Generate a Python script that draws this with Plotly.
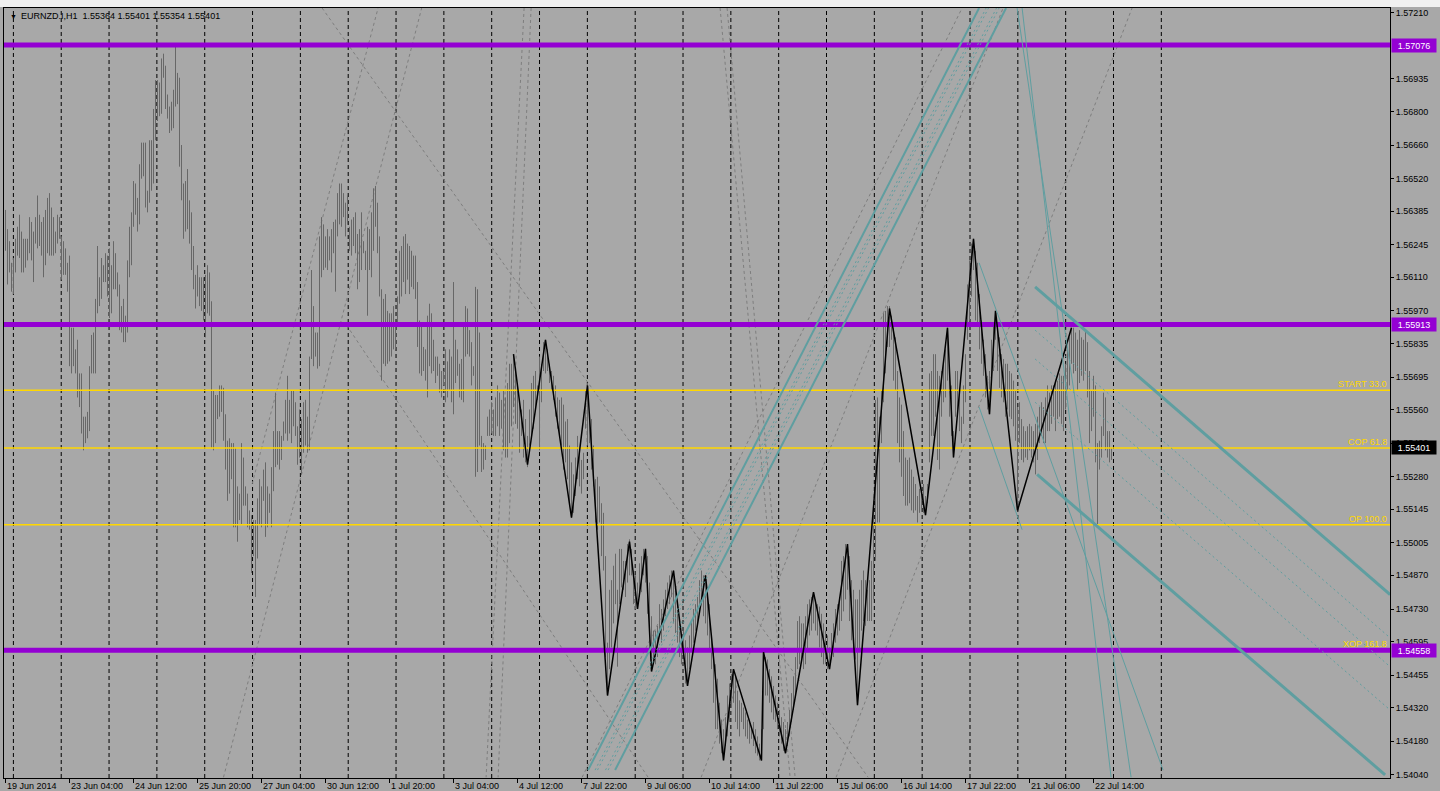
import plotly.graph_objects as go

# ---------------- data ----------------
time_labels = ["19 Jun 2014", "23 Jun 04:00", "24 Jun 12:00", "25 Jun 20:00", "27 Jun 04:00",
               "30 Jun 12:00", "1 Jul 20:00", "3 Jul 04:00", "4 Jul 12:00", "7 Jul 22:00",
               "9 Jul 06:00", "10 Jul 14:00", "11 Jul 22:00", "15 Jul 06:00", "16 Jul 14:00",
               "17 Jul 22:00", "21 Jul 06:00", "22 Jul 14:00"]
label_bars = [0, 32, 64, 96, 128, 160, 192, 224, 256, 288, 320, 352, 384, 416, 448, 480, 512, 544]

price_ticks = [1.57210, 1.56935, 1.56800, 1.56660, 1.56520, 1.56385, 1.56245, 1.56110,
               1.55970, 1.55835, 1.55695, 1.55560, 1.55420, 1.55280, 1.55145, 1.55005,
               1.54870, 1.54730, 1.54595, 1.54455, 1.54320, 1.54180, 1.54040]

high = [
 1.5639, 1.5631, 1.5626, 1.5617, 1.5619, 1.5627, 1.5632, 1.5637, 1.5630, 1.5627,
 1.5627, 1.5627, 1.5636, 1.5634, 1.5630, 1.5636, 1.5645, 1.5637, 1.5634, 1.5636,
 1.5639, 1.5644, 1.5646, 1.5640, 1.5636, 1.5630, 1.5637, 1.5636, 1.5628, 1.5626,
 1.5623, 1.5617, 1.5620, 1.5590, 1.5590, 1.5581, 1.5585, 1.5571, 1.5571, 1.5553,
 1.5553, 1.5555, 1.5574, 1.5587, 1.5588, 1.5602, 1.5624, 1.5611, 1.5619, 1.5616,
 1.5621, 1.5620, 1.5623, 1.5616, 1.5626, 1.5621, 1.5613, 1.5608, 1.5599, 1.5602,
 1.5595, 1.5618, 1.5632, 1.5638, 1.5651, 1.5650, 1.5644, 1.5658, 1.5667, 1.5667,
 1.5667, 1.5647, 1.5668, 1.5668, 1.5681, 1.5693, 1.5693, 1.5692, 1.5702, 1.5704,
 1.5699, 1.5687, 1.5682, 1.5684, 1.5689, 1.5707, 1.5696, 1.5694, 1.5666, 1.5650,
 1.5651, 1.5656, 1.5643, 1.5638, 1.5624, 1.5612, 1.5616, 1.5611, 1.5611, 1.5611,
 1.5612, 1.5616, 1.5613, 1.5601, 1.5564, 1.5562, 1.5562, 1.5566, 1.5566, 1.5565,
 1.5554, 1.5543, 1.5544, 1.5542, 1.5542, 1.5540, 1.5524, 1.5521, 1.5542, 1.5536,
 1.5524, 1.5521, 1.5514, 1.5512, 1.5510, 1.5510, 1.5519, 1.5527, 1.5524, 1.5531,
 1.5534, 1.5524, 1.5521, 1.5532, 1.5547, 1.5563, 1.5547, 1.5547,
 1.5545, 1.5551, 1.5560, 1.5570, 1.5560, 1.5564, 1.5564, 1.5559, 1.5549, 1.5556,
 1.5552, 1.5559, 1.5560, 1.5553, 1.5578, 1.5614, 1.5599, 1.5588, 1.5588, 1.5628,
 1.5636, 1.5633, 1.5628, 1.5631, 1.5628, 1.5631, 1.5634, 1.5635, 1.5646, 1.5650,
 1.5650, 1.5646, 1.5642, 1.5645, 1.5632, 1.5635, 1.5636, 1.5638, 1.5629, 1.5631,
 1.5638, 1.5626, 1.5622, 1.5632, 1.5631, 1.5638, 1.5648, 1.5649, 1.5642, 1.5628,
 1.5606, 1.5602, 1.5604, 1.5597, 1.5596, 1.5596, 1.5599, 1.5592, 1.5603, 1.5622,
 1.5624, 1.5628, 1.5629, 1.5625, 1.5624, 1.5622, 1.5620, 1.5620, 1.5609, 1.5593,
 1.5591, 1.5582, 1.5581, 1.5595, 1.5600, 1.5596, 1.5585, 1.5578, 1.5578, 1.5575,
 1.5572, 1.5572, 1.5581, 1.5576, 1.5581, 1.5578, 1.5609, 1.5585, 1.5581, 1.5575,
 1.5577, 1.5592, 1.5599, 1.5598, 1.5589, 1.5584, 1.5574, 1.5607, 1.5606, 1.5588,
 1.5545, 1.5542, 1.5541, 1.5553, 1.5556, 1.5559, 1.5556, 1.5561, 1.5566, 1.5563,
 1.5560, 1.5564, 1.5561, 1.5567, 1.5575, 1.5575, 1.5579, 1.5572, 1.5567, 1.5559,
 1.5556, 1.5560, 1.5552, 1.5545, 1.5556, 1.5567, 1.5570, 1.5572, 1.5566, 1.5578,
 1.5575, 1.5584, 1.5585, 1.5581, 1.5575, 1.5572, 1.5570, 1.5566, 1.5561, 1.5560,
 1.5561, 1.5558, 1.5551, 1.5552, 1.5541, 1.5534, 1.5529, 1.5536, 1.5545, 1.5538,
 1.5535, 1.5538, 1.5564, 1.5567, 1.5553, 1.5552, 1.5541, 1.5527, 1.5528, 1.5524,
 1.5517, 1.5513, 1.5495, 1.5459, 1.5481, 1.5485, 1.5491, 1.5496, 1.5481, 1.5498,
 1.5498, 1.5493, 1.5493, 1.5500, 1.5502, 1.5498, 1.5489, 1.5487, 1.5484, 1.5492,
 1.5495, 1.5498, 1.5498, 1.5495, 1.5484, 1.5470, 1.5464, 1.5464, 1.5466, 1.5475,
 1.5473, 1.5477, 1.5481, 1.5484, 1.5487, 1.5489, 1.5489, 1.5482, 1.5475, 1.5467,
 1.5462, 1.5464, 1.5460, 1.5457, 1.5462, 1.5468, 1.5473, 1.5475, 1.5478, 1.5485,
 1.5489, 1.5487, 1.5487, 1.5482, 1.5475, 1.5462, 1.5455, 1.5450, 1.5444, 1.5434,
 1.5427, 1.5423, 1.5428, 1.5437, 1.5442, 1.5446, 1.5448, 1.5445, 1.5439, 1.5435,
 1.5434, 1.5432, 1.5430, 1.5427, 1.5426, 1.5423, 1.5426, 1.5423, 1.5420, 1.5417,
 1.5423, 1.5455, 1.5453, 1.5452, 1.5448, 1.5445, 1.5441, 1.5437, 1.5434, 1.5431,
 1.5428, 1.5426, 1.5423, 1.5426, 1.5431, 1.5438, 1.5445, 1.5453, 1.5468, 1.5470,
 1.5467, 1.5467, 1.5470, 1.5475, 1.5477, 1.5478, 1.5480, 1.5477, 1.5475, 1.5474,
 1.5471, 1.5467, 1.5464, 1.5462, 1.5457, 1.5463, 1.5467, 1.5473, 1.5475, 1.5478,
 1.5493, 1.5495, 1.5500, 1.5500, 1.5495, 1.5485, 1.5481, 1.5477, 1.5477, 1.5481,
 1.5485, 1.5489, 1.5485, 1.5481, 1.5485, 1.5493, 1.5518, 1.5560,
 1.5561, 1.5553, 1.5564, 1.5596, 1.5597, 1.5599, 1.5599, 1.5595, 1.5590, 1.5586,
 1.5572, 1.5561, 1.5558, 1.5547, 1.5536, 1.5535, 1.5536, 1.5531, 1.5528, 1.5525,
 1.5520, 1.5523, 1.5521, 1.5525, 1.5520, 1.5525, 1.5571, 1.5572, 1.5579, 1.5579,
 1.5572, 1.5570, 1.5572, 1.5575, 1.5581, 1.5590, 1.5572, 1.5566, 1.5547, 1.5572,
 1.5572, 1.5563, 1.5553, 1.5566, 1.5579, 1.5608, 1.5618, 1.5625, 1.5627, 1.5622,
 1.5617, 1.5604, 1.5593, 1.5585, 1.5579, 1.5570, 1.5572, 1.5585, 1.5592, 1.5597,
 1.5590, 1.5586, 1.5579, 1.5577, 1.5575, 1.5575, 1.5572, 1.5571, 1.5568, 1.5564,
 1.5557, 1.5559, 1.5552, 1.5549, 1.5547, 1.5549, 1.5550, 1.5549, 1.5547, 1.5550,
 1.5553, 1.5557, 1.5559, 1.5557, 1.5561, 1.5566, 1.5563, 1.5566, 1.5566, 1.5568,
 1.5568, 1.5571, 1.5570, 1.5570, 1.5575, 1.5581, 1.5586, 1.5590, 1.5590, 1.5588,
 1.5585, 1.5589, 1.5586, 1.5585, 1.5589, 1.5584, 1.5572, 1.5564, 1.5570, 1.5566,
 1.5542, 1.5543, 1.5549, 1.5563, 1.5561, 1.5547, 1.5547, 1.5540]

low = [
 1.5622, 1.5608, 1.5613, 1.5605, 1.5604, 1.5613, 1.5620, 1.5619, 1.5613, 1.5613,
 1.5615, 1.5618, 1.5621, 1.5618, 1.5609, 1.5625, 1.5623, 1.5624, 1.5620, 1.5611,
 1.5616, 1.5621, 1.5620, 1.5620, 1.5620, 1.5621, 1.5625, 1.5627, 1.5610, 1.5612,
 1.5612, 1.5605, 1.5574, 1.5571, 1.5574, 1.5571, 1.5561, 1.5557, 1.5546, 1.5539,
 1.5542, 1.5544, 1.5547, 1.5571, 1.5571, 1.5571, 1.5596, 1.5599, 1.5602, 1.5609,
 1.5609, 1.5603, 1.5594, 1.5596, 1.5606, 1.5606, 1.5603, 1.5589, 1.5588, 1.5584,
 1.5584, 1.5588, 1.5611, 1.5616, 1.5632, 1.5637, 1.5630, 1.5633, 1.5652, 1.5653,
 1.5640, 1.5638, 1.5642, 1.5647, 1.5650, 1.5668, 1.5676, 1.5678, 1.5679, 1.5694,
 1.5681, 1.5677, 1.5671, 1.5672, 1.5673, 1.5682, 1.5683, 1.5657, 1.5643, 1.5627,
 1.5630, 1.5631, 1.5625, 1.5614, 1.5606, 1.5598, 1.5603, 1.5599, 1.5597, 1.5593,
 1.5586, 1.5596, 1.5595, 1.5540, 1.5539, 1.5542, 1.5552, 1.5553, 1.5555, 1.5543,
 1.5531, 1.5518, 1.5521, 1.5527, 1.5507, 1.5507, 1.5501, 1.5510, 1.5508, 1.5516,
 1.5516, 1.5507, 1.5506, 1.5488, 1.5495, 1.5478, 1.5494, 1.5508, 1.5507, 1.5518,
 1.5503, 1.5507, 1.5513, 1.5507, 1.5522, 1.5532, 1.5533, 1.5531,
 1.5535, 1.5543, 1.5546, 1.5543, 1.5546, 1.5542, 1.5549, 1.5545, 1.5533, 1.5536,
 1.5529, 1.5538, 1.5541, 1.5538, 1.5539, 1.5577, 1.5574, 1.5578, 1.5573, 1.5574,
 1.5611, 1.5614, 1.5615, 1.5614, 1.5618, 1.5613, 1.5621, 1.5605, 1.5628, 1.5633,
 1.5632, 1.5636, 1.5628, 1.5633, 1.5622, 1.5620, 1.5624, 1.5621, 1.5606, 1.5609,
 1.5614, 1.5621, 1.5614, 1.5595, 1.5614, 1.5611, 1.5622, 1.5632, 1.5621, 1.5603,
 1.5568, 1.5575, 1.5574, 1.5575, 1.5576, 1.5578, 1.5581, 1.5581, 1.5592, 1.5600,
 1.5603, 1.5609, 1.5604, 1.5610, 1.5604, 1.5607, 1.5606, 1.5602, 1.5582, 1.5571,
 1.5570, 1.5572, 1.5568, 1.5561, 1.5574, 1.5571, 1.5572, 1.5567, 1.5570, 1.5563,
 1.5561, 1.5566, 1.5559, 1.5561, 1.5564, 1.5559, 1.5554, 1.5567, 1.5570, 1.5561,
 1.5560, 1.5559, 1.5578, 1.5579, 1.5578, 1.5566, 1.5570, 1.5528, 1.5530, 1.5541,
 1.5530, 1.5531, 1.5535, 1.5545, 1.5545, 1.5546, 1.5545, 1.5545, 1.5549, 1.5545,
 1.5548, 1.5539, 1.5536, 1.5536, 1.5542, 1.5549, 1.5557, 1.5550, 1.5548, 1.5538,
 1.5545, 1.5536, 1.5534, 1.5532, 1.5541, 1.5545, 1.5548, 1.5556, 1.5560, 1.5539,
 1.5559, 1.5572, 1.5571, 1.5572, 1.5567, 1.5564, 1.5560, 1.5553, 1.5548, 1.5545,
 1.5541, 1.5531, 1.5534, 1.5527, 1.5517, 1.5511, 1.5513, 1.5520, 1.5527, 1.5524,
 1.5521, 1.5527, 1.5548, 1.5541, 1.5542, 1.5531, 1.5524, 1.5509, 1.5506, 1.5509,
 1.5495, 1.5489, 1.5453, 1.5437, 1.5448, 1.5457, 1.5467, 1.5475, 1.5449, 1.5475,
 1.5482, 1.5481, 1.5478, 1.5484, 1.5487, 1.5487, 1.5475, 1.5473, 1.5473, 1.5478,
 1.5480, 1.5487, 1.5484, 1.5471, 1.5462, 1.5448, 1.5450, 1.5450, 1.5453, 1.5462,
 1.5459, 1.5464, 1.5470, 1.5473, 1.5475, 1.5478, 1.5467, 1.5463, 1.5459, 1.5453,
 1.5450, 1.5453, 1.5442, 1.5442, 1.5448, 1.5456, 1.5459, 1.5464, 1.5467, 1.5473,
 1.5475, 1.5470, 1.5467, 1.5462, 1.5456, 1.5448, 1.5434, 1.5423, 1.5423, 1.5417,
 1.5413, 1.5410, 1.5416, 1.5420, 1.5426, 1.5432, 1.5434, 1.5426, 1.5423, 1.5420,
 1.5426, 1.5423, 1.5420, 1.5419, 1.5417, 1.5419, 1.5416, 1.5413, 1.5412, 1.5410,
 1.5410, 1.5423, 1.5437, 1.5437, 1.5434, 1.5430, 1.5427, 1.5426, 1.5423, 1.5420,
 1.5417, 1.5414, 1.5413, 1.5416, 1.5420, 1.5426, 1.5431, 1.5437, 1.5448, 1.5450,
 1.5452, 1.5448, 1.5450, 1.5456, 1.5462, 1.5464, 1.5467, 1.5464, 1.5462, 1.5457,
 1.5453, 1.5450, 1.5450, 1.5448, 1.5448, 1.5452, 1.5453, 1.5459, 1.5462, 1.5464,
 1.5468, 1.5472, 1.5477, 1.5481, 1.5468, 1.5460, 1.5456, 1.5452, 1.5433, 1.5456,
 1.5464, 1.5468, 1.5466, 1.5468, 1.5468, 1.5468, 1.5477, 1.5493,
 1.5509, 1.5509, 1.5542, 1.5559, 1.5571, 1.5582, 1.5582, 1.5585, 1.5568, 1.5564,
 1.5542, 1.5534, 1.5528, 1.5520, 1.5516, 1.5516, 1.5517, 1.5514, 1.5513, 1.5514,
 1.5509, 1.5513, 1.5514, 1.5513, 1.5512, 1.5517, 1.5534, 1.5545, 1.5545, 1.5553,
 1.5535, 1.5531, 1.5553, 1.5559, 1.5561, 1.5568, 1.5553, 1.5545, 1.5536, 1.5553,
 1.5556, 1.5547, 1.5542, 1.5550, 1.5559, 1.5585, 1.5593, 1.5603, 1.5614, 1.5593,
 1.5592, 1.5581, 1.5575, 1.5570, 1.5561, 1.5556, 1.5554, 1.5568, 1.5572, 1.5585,
 1.5572, 1.5565, 1.5561, 1.5559, 1.5553, 1.5556, 1.5553, 1.5552, 1.5549, 1.5543,
 1.5514, 1.5542, 1.5535, 1.5534, 1.5536, 1.5535, 1.5539, 1.5536, 1.5534, 1.5529,
 1.5535, 1.5542, 1.5545, 1.5542, 1.5542, 1.5547, 1.5547, 1.5550, 1.5553, 1.5547,
 1.5552, 1.5553, 1.5550, 1.5547, 1.5556, 1.5564, 1.5566, 1.5575, 1.5571, 1.5572,
 1.5564, 1.5567, 1.5570, 1.5568, 1.5572, 1.5561, 1.5542, 1.5547, 1.5553, 1.5534,
 1.5507, 1.5531, 1.5536, 1.5545, 1.5539, 1.5536, 1.5534, 1.5535]

zigzag_bars = [254, 261, 270, 283, 291, 301, 312, 316, 320, 323, 334, 341, 350, 359, 364,
               378, 379, 390, 404, 412, 421, 426, 442, 460, 471, 474, 484, 492, 495, 506, 533]
zigzag_prices = [1.5579, 1.5533, 1.5585, 1.5511, 1.5566, 1.5437, 1.5501, 1.5473, 1.5498, 1.5447,
                 1.5489, 1.5441, 1.5487, 1.5410, 1.5448, 1.5410, 1.5455, 1.5413, 1.5480, 1.5448,
                 1.5500, 1.5433, 1.5598, 1.5512, 1.5590, 1.5536, 1.5627, 1.5554, 1.5597, 1.5514,
                 1.5590]

purple_levels = [1.57076, 1.55913, 1.54558]
fib_names = ["START 33.0", "COP 61.8", "OP 100.0", "XOP 161.8"]
fib_levels = [1.5564, 1.5540, 1.5508, 1.5456]
last_price = 1.55401
title_symbol = "EURNZD.I,H1  1.55364 1.55401 1.55354 1.55401"

# drawn objects: (bar indices, prices)
teal_channel_up = [([291.3, 486.8], [1.5406, 1.5723]), ([304.8, 500.3], [1.5406, 1.5723])]
teal_channel_up_dots = [([294.8, 490.3], [1.5406, 1.5723]), ([296.0, 491.5], [1.5406, 1.5723]),
                        ([300.0, 495.5], [1.5406, 1.5723]), ([301.3, 496.8], [1.5406, 1.5723])]
teal_channel_down = [([514.8, 692.3], [1.5607, 1.5479]), ([515.8, 689.8], [1.5529, 1.5404])]
teal_channel_down_dots = [([514.8, 692.3], [1.5589, 1.5461]), ([514.8, 692.3], [1.5577, 1.5449]),
                          ([514.8, 692.3], [1.5559, 1.5431])]
teal_thin = [([486.8, 578.8], [1.5617, 1.5406]), ([486.8, 508.3], [1.5557, 1.5506]),
             ([508.3, 552.8], [1.5723, 1.5403]), ([505.8, 562.8], [1.5723, 1.5403])]
gray_dashed = [([158.3, 431.3], [1.5723, 1.5403]),
               ([123.3, 186.3], [1.5525, 1.5723]),
               ([109.0, 208.1], [1.5403, 1.5723]),
               ([170.6, 321.3], [1.5591, 1.5403]),
               ([259.3, 240.3], [1.5723, 1.5403]),
               ([262.8, 246.3], [1.5723, 1.5403]),
               ([357.3, 392.3], [1.5723, 1.5403]),
               ([360.8, 394.8], [1.5723, 1.5403]),
               ([288.3, 478.3], [1.5403, 1.5723]),
               ([347.8, 498.8], [1.5403, 1.5723]),
               ([415.3, 563.3], [1.5403, 1.5723])]

grid_start, grid_step, grid_count = 3.95, 23.915, 25

# ---------------- style ----------------
BG = "#A8A8A8"
BAR = "#676767"
PURPLE = "#9400D3"
GOLD = "#FFD700"
TEAL = "#5F9EA0"
GRAYD = "#7E7E7E"
FONT = "Liberation Sans"

fig = go.Figure()

# gray dashed analysis lines
for xs, ys in gray_dashed:
    fig.add_trace(go.Scatter(x=xs, y=ys, mode="lines",
                             line=dict(color=GRAYD, width=1, dash="3px,3px"), hoverinfo="skip"))

# bars (high-low)
bx, by = [], []
for i, (h, l) in enumerate(zip(high, low)):
    bx += [i, i, None]
    by += [l, h, None]
fig.add_trace(go.Scatter(x=bx, y=by, mode="lines", line=dict(color=BAR, width=1), hoverinfo="skip"))

# fib levels
for lv in fib_levels:
    fig.add_trace(go.Scatter(x=[-5, 700], y=[lv, lv], mode="lines",
                             line=dict(color=GOLD, width=1.5), hoverinfo="skip"))
# purple levels
for lv in purple_levels:
    fig.add_trace(go.Scatter(x=[-5, 700], y=[lv, lv], mode="lines",
                             line=dict(color=PURPLE, width=5), hoverinfo="skip"))

# zigzag
fig.add_trace(go.Scatter(x=zigzag_bars, y=zigzag_prices, mode="lines",
                         line=dict(color="black", width=1.5), hoverinfo="skip"))

# teal objects
for xs, ys in teal_channel_up_dots + teal_channel_down_dots:
    fig.add_trace(go.Scatter(x=xs, y=ys, mode="lines",
                             line=dict(color=TEAL, width=1, dash="2px,3px"), hoverinfo="skip"))
for xs, ys in teal_thin:
    fig.add_trace(go.Scatter(x=xs, y=ys, mode="lines",
                             line=dict(color=TEAL, width=1), hoverinfo="skip"))
for xs, ys in teal_channel_up:
    fig.add_trace(go.Scatter(x=xs, y=ys, mode="lines",
                             line=dict(color=TEAL, width=2), hoverinfo="skip"))
for xs, ys in teal_channel_down:
    fig.add_trace(go.Scatter(x=xs, y=ys, mode="lines",
                             line=dict(color=TEAL, width=3), hoverinfo="skip"))

# vertical dashed grid
shapes = []
for k in range(grid_count):
    gx = grid_start + grid_step * k
    shapes.append(dict(type="line", xref="x", yref="paper", x0=gx, x1=gx, y0=0, y1=1,
                       line=dict(color="black", width=1, dash="4px,3px"), layer="below"))
# top chrome strip
shapes.append(dict(type="rect", xref="paper", yref="paper", x0=-0.01, x1=1.04,
                   y0=1.0013, y1=1.02, fillcolor="#F0F0F0", line=dict(width=0), layer="above"))

annotations = []
# time labels
for b, t in zip(label_bars, time_labels):
    annotations.append(dict(x=b, y=0, xref="x", yref="paper", text=t, showarrow=False,
                            xanchor="left", yanchor="top", xshift=-1, yshift=-1,
                            font=dict(family=FONT, size=9, color="black")))
# fib labels
for name, lv in zip(fib_names, fib_levels):
    annotations.append(dict(x=1, y=lv, xref="paper", yref="y", text=name, showarrow=False,
                            xanchor="right", yanchor="bottom", xshift=-1, yshift=-1,
                            font=dict(family=FONT, size=9, color=GOLD)))
# price boxes
for lv in purple_levels:
    annotations.append(dict(x=1, y=lv, xref="paper", yref="y", text=f"{lv:.5f}", showarrow=False,
                            xanchor="left", yanchor="middle", xshift=1, bgcolor=PURPLE,
                            width=42, height=11, borderpad=1,
                            font=dict(family=FONT, size=9, color="white")))
annotations.append(dict(x=1, y=last_price, xref="paper", yref="y", text=f"{last_price:.5f}",
                        showarrow=False, xanchor="left", yanchor="middle", xshift=1,
                        bgcolor="black", width=42, height=11, borderpad=1,
                        font=dict(family=FONT, size=9, color="white")))
# title
annotations.append(dict(x=0, y=1, xref="paper", yref="paper", text="▼",
                        showarrow=False, xanchor="left", yanchor="top", xshift=4, yshift=-3,
                        font=dict(family=FONT, size=7, color="black")))
annotations.append(dict(x=0, y=1, xref="paper", yref="paper", text=title_symbol,
                        showarrow=False, xanchor="left", yanchor="top", xshift=15, yshift=-1,
                        font=dict(family=FONT, size=9, color="black")))

fig.update_layout(
    width=1440, height=791,
    margin=dict(l=4, r=50, t=8, b=13, autoexpand=False),
    paper_bgcolor=BG, plot_bgcolor=BG,
    showlegend=False,
    shapes=shapes, annotations=annotations,
    xaxis=dict(range=[-0.75, 692.25], showgrid=False, zeroline=False,
               showline=True, linecolor="black", linewidth=1, mirror=True,
               tickvals=label_bars, ticktext=[""] * len(label_bars),
               ticks="outside", ticklen=4, tickcolor="black", tickwidth=1,
               showticklabels=False, fixedrange=True),
    yaxis=dict(range=[1.54027, 1.57230], side="right", showgrid=False, zeroline=False,
               showline=True, linecolor="black", linewidth=1, mirror=True,
               tickvals=price_ticks, ticktext=[f"{p:.5f}" for p in price_ticks],
               ticks="outside", ticklen=3, tickcolor="black", tickwidth=1,
               tickfont=dict(family=FONT, size=9, color="black"), fixedrange=True),
)

fig.write_html("out.html", config={"displayModeBar": False},
               post_script="document.body.style.margin='0px';document.body.style.overflow='hidden';")
